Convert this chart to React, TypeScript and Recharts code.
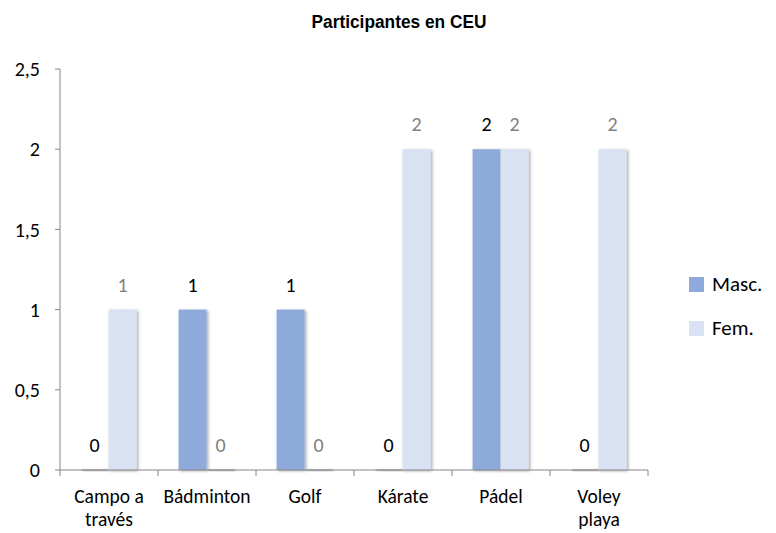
import { BarChart, Bar, XAxis, YAxis, LabelList } from 'recharts';

const CATEGORIES = ['Campo a través', 'Bádminton', 'Golf', 'Kárate', 'Pádel', 'Voley playa'];
const MASC = [0, 1, 1, 0, 2, 0];
const FEM = [1, 0, 0, 2, 2, 2];
const Y_TICKS = [0, 0.5, 1, 1.5, 2, 2.5];

const MASC_COLOR = '#8eaadb';
const FEM_COLOR = '#d9e2f3';
const AXIS_COLOR = '#868686';
const FONT = 'Carlito, Calibri, Lato, sans-serif';

const data = CATEGORIES.map((name, i) => ({ name, masc: MASC[i], fem: FEM[i] }));

const PLOT_LEFT = 60;
const PLOT_RIGHT = 128;

// bar with a soft drop shadow; zero bars keep a thin shadow line on the axis
function ShadowBar(props: any) {
  const { x, y, width, height, fill } = props;
  if (!height || height <= 0) {
    return <rect x={x + 1} y={y - 1} width={width - 1} height={2} fill="#8a8a8a" opacity={0.55} filter="url(#barShadow)" />;
  }
  return <rect x={x} y={y} width={width} height={height} fill={fill} filter="url(#barShadow)" />;
}

function CategoryTick(props: any) {
  const { x, y, payload, index } = props;
  const band = (776 - PLOT_LEFT - PLOT_RIGHT) / CATEGORIES.length;
  const label: string = payload.value;
  let lines = [label];
  if (label.length > 10 && label.includes(' ')) {
    const cut = label.lastIndexOf(' ');
    lines = [label.slice(0, cut), label.slice(cut + 1)];
  }
  return (
    <g>
      <line x1={x - band / 2} x2={x - band / 2} y1={y - 8} y2={y - 2} stroke={AXIS_COLOR} />
      {index === CATEGORIES.length - 1 && (
        <line x1={x + band / 2} x2={x + band / 2} y1={y - 8} y2={y - 2} stroke={AXIS_COLOR} />
      )}
      <text x={x} y={y + 25} textAnchor="middle" fontSize={19.5} fontFamily={FONT} fill="#000">
        {lines.map((l, i) => (
          <tspan key={i} x={x} dy={i === 0 ? 0 : 23}>
            {l}
          </tspan>
        ))}
      </text>
    </g>
  );
}

const LEGEND_ITEMS = [
  { label: 'Masc.', color: MASC_COLOR },
  { label: 'Fem.', color: FEM_COLOR },
];

export default function App() {
  return (
    <div style={{ position: 'absolute', left: 0, top: 0, width: 776, height: 533, background: '#fff' }}>
      <svg width={776} height={40} style={{ position: 'absolute', left: 0, top: 0 }}>
        <text
          x={399}
          y={28}
          textAnchor="middle"
          fontFamily='"Liberation Sans", Arial, sans-serif'
          fontWeight="bold"
          fontSize={18}
          textLength={175}
          lengthAdjust="spacingAndGlyphs"
          fill="#000"
        >
          Participantes en CEU
        </text>
      </svg>
      <BarChart
        width={776}
        height={533}
        data={data}
        margin={{ top: 69, right: PLOT_RIGHT, left: 0, bottom: 0 }}
        barGap={0}
        barCategoryGap="21%"
      >
        <defs>
          <filter id="barShadow" x="-30%" y="-10%" width="160%" height="130%">
            <feDropShadow dx="1.5" dy="1" stdDeviation="1.5" floodColor="#000" floodOpacity="0.35" />
          </filter>
        </defs>
        <XAxis
          dataKey="name"
          height={63}
          axisLine={{ stroke: AXIS_COLOR }}
          tickLine={false}
          tick={<CategoryTick />}
          interval={0}
        />
        <YAxis
          width={PLOT_LEFT}
          domain={[0, 2.5]}
          ticks={Y_TICKS}
          tickSize={5}
          tickMargin={15}
          axisLine={{ stroke: AXIS_COLOR }}
          tickLine={{ stroke: AXIS_COLOR }}
          tick={{ fontSize: 20, fontFamily: FONT, fill: '#000' }}
          tickFormatter={(v: number) => String(v).replace('.', ',')}
        />
        <Bar dataKey="masc" name="Masc." fill={MASC_COLOR} shape={<ShadowBar />} isAnimationActive={false}>
          <LabelList dataKey="masc" position="top" offset={18} fontSize={20} fontFamily={FONT} fill="#000" />
        </Bar>
        <Bar dataKey="fem" name="Fem." fill={FEM_COLOR} shape={<ShadowBar />} isAnimationActive={false}>
          <LabelList dataKey="fem" position="top" offset={18} fontSize={20} fontFamily={FONT} fill="#808080" />
        </Bar>
      </BarChart>
      <div style={{ position: 'absolute', left: 689, top: 262, fontFamily: FONT, fontSize: 21, color: '#000' }}>
        {LEGEND_ITEMS.map((item) => (
          <div key={item.label} style={{ display: 'flex', alignItems: 'center', height: 44 }}>
            <div style={{ width: 15, height: 15, backgroundColor: item.color, marginRight: 8 }} />
            <span>{item.label}</span>
          </div>
        ))}
      </div>
    </div>
  );
}
